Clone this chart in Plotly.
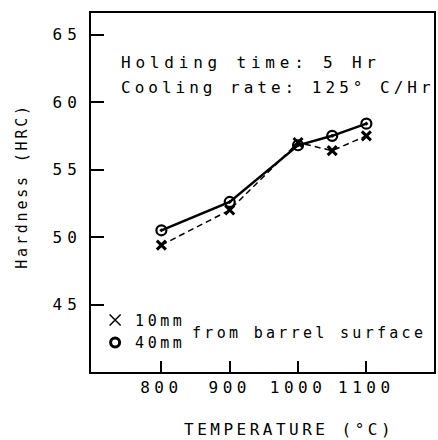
import plotly.graph_objects as go

temps = [800, 900, 1000, 1050, 1100]
hard_10mm = [49.4, 52.0, 57.0, 56.4, 57.5]
hard_40mm = [50.5, 52.6, 56.8, 57.5, 58.4]
y_ticks = [45, 50, 55, 60, 65]
x_ticks = [800, 900, 1000, 1100]

FONT = "DejaVu Sans Mono"
def sp(t, ls=5):
    return f'<span style="letter-spacing:{ls}px">{t}</span>'

fig = go.Figure()
fig.add_trace(go.Scatter(
    x=temps, y=hard_10mm, mode="lines+markers", showlegend=False,
    line=dict(color="black", width=1.5, dash="6px,4px"),
    marker=dict(symbol="x-thin-open", size=9, line=dict(color="black", width=3), color="black"),
))
fig.add_trace(go.Scatter(
    x=temps, y=hard_40mm, mode="lines+markers", showlegend=False,
    line=dict(color="black", width=2.5),
    marker=dict(symbol="circle-open-dot", size=10, line=dict(color="black", width=2.2), color="black"),
))
# legend entries
fig.add_trace(go.Scatter(
    x=[None], y=[None], mode="markers", name=sp("10mm", 3.5),
    marker=dict(symbol="x-thin-open", size=11, line=dict(color="black", width=1.5), color="black"),
))
fig.add_trace(go.Scatter(
    x=[None], y=[None], mode="markers", name=sp("40mm", 3.5),
    marker=dict(symbol="circle-open", size=9, line=dict(color="black", width=3), color="black"),
))

fig.add_annotation(x=0.083, y=0.862, xref="paper", yref="paper", xanchor="left", yanchor="middle",
                   text=sp("Holding time: 5 Hr", 4.8), showarrow=False,
                   font=dict(family=FONT, size=16, color="black"))
fig.add_annotation(x=0.083, y=0.792, xref="paper", yref="paper", xanchor="left", yanchor="middle",
                   text=sp("Cooling rate: 125° C/Hr", 4.0), showarrow=False,
                   font=dict(family=FONT, size=16, color="black"))
fig.add_annotation(x=0.29, y=0.109, xref="paper", yref="paper", xanchor="left", yanchor="middle",
                   text=sp("from barrel surface", 3.3), showarrow=False,
                   font=dict(family=FONT, size=15, color="black"))
# axis titles
fig.add_annotation(x=-0.2, y=0.52, xref="paper", yref="paper", xanchor="center", yanchor="middle",
                   text=sp("Hardness (HRC)", 2.8), showarrow=False, textangle=-90,
                   font=dict(family=FONT, size=15, color="black"))
fig.add_annotation(x=0.577, y=-0.16, xref="paper", yref="paper", xanchor="center", yanchor="middle",
                   text=sp("TEMPERATURE (°C)", 3.5), showarrow=False,
                   font=dict(family=FONT, size=16, color="black"))

fig.update_layout(
    width=438, height=440,
    margin=dict(l=91, r=4, t=13, b=68),
    paper_bgcolor="white", plot_bgcolor="white",
    font=dict(family=FONT, size=16, color="black"),
    legend=dict(x=0.012, y=0.19, xanchor="left", yanchor="top",
                bgcolor="rgba(0,0,0,0)", font=dict(family=FONT, size=15),
                tracegroupgap=0, itemwidth=30),
)
fig.update_xaxes(
    range=[697, 1199], tickvals=x_ticks, ticktext=[sp(str(v), 4.5) for v in x_ticks],
    ticks="inside", ticklen=11, tickwidth=1.5, tickcolor="black", automargin=False,
    showline=True, linecolor="black", linewidth=2, mirror=True, showgrid=False, zeroline=False,
    tickfont=dict(size=16),
)
fig.update_yaxes(
    range=[40, 66.6], tickvals=y_ticks, ticktext=[sp(str(v), 5) for v in y_ticks],
    ticks="inside", ticklen=13, tickwidth=1.5, tickcolor="black", automargin=False,
    showline=True, linecolor="black", linewidth=2, mirror=True, showgrid=False, zeroline=False,
    tickfont=dict(size=16), ticklabelstandoff=4,
)
# remove the default page margin so the 438x440 figure fills the window exactly
fig.write_html("out.html", config={"displayModeBar": False},
               post_script="document.body.style.margin='0';document.body.style.overflow='hidden';")
